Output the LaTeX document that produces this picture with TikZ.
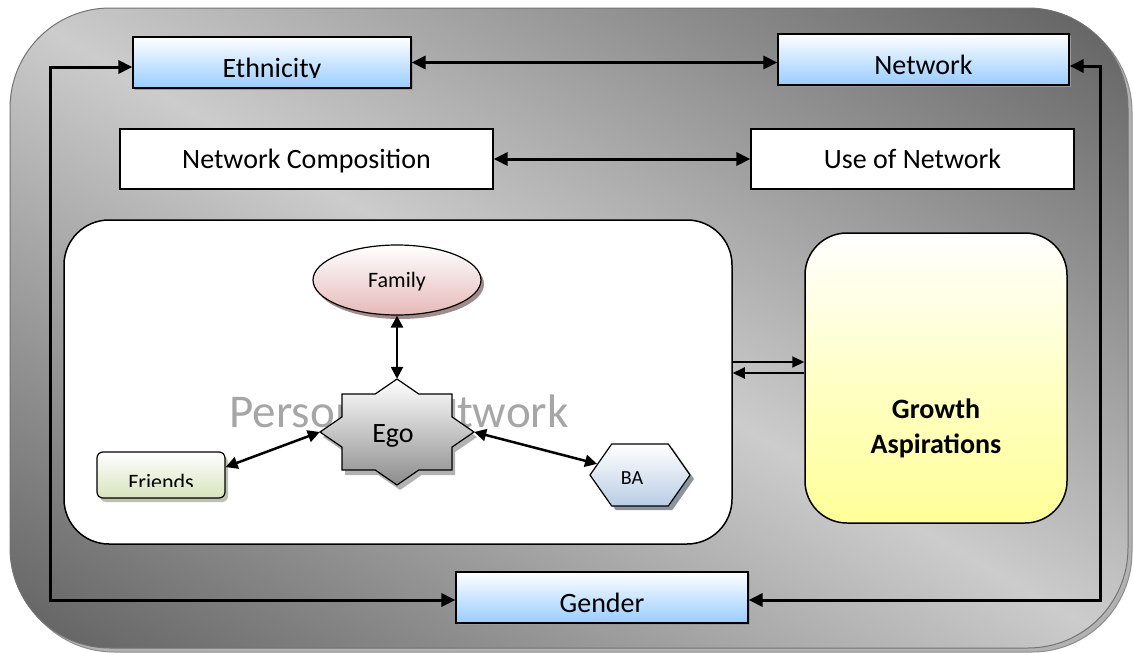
\documentclass[tikz,border=0pt]{standalone}
\usepackage{fontspec}
\setmainfont{Carlito}
\usetikzlibrary{arrows.meta,shapes.geometric,shapes.symbols,shadows,calc}
\definecolor{framedark}{HTML}{666666}
\definecolor{framelight}{HTML}{CCCCCC}
\definecolor{boxblue}{HTML}{99CCFF}
\definecolor{fampink}{HTML}{E6B9B8}
\definecolor{frgreen}{HTML}{D7E4BD}
\definecolor{hexblue}{HTML}{B9CDE5}
\definecolor{gyellow}{HTML}{FFFF99}
\definecolor{wmgray}{HTML}{A6A6A6}
\begin{document}
\begin{tikzpicture}[x=1pt,y=-1pt,
  conn/.style={line width=3pt},
  arr/.style={line width=3pt,-{Triangle[length=14pt,width=13pt]}},
  darr/.style={line width=3pt,{Triangle[length=14pt,width=13pt]}-{Triangle[length=14pt,width=13pt]}},
  iarr/.style={line width=2.5pt,{Triangle[length=12pt,width=12pt]}-{Triangle[length=12pt,width=12pt]}},
  sarr/.style={line width=2pt,-{Triangle[length=12pt,width=11pt]}},
  bluebox/.style={draw=black,line width=1.2pt,top color=white,bottom color=boxblue,minimum height=51pt,inner sep=0pt,
     drop shadow={shadow xshift=2pt,shadow yshift=-2pt,fill=black!40,opacity=1}},
  whitebox/.style={draw=black,line width=1.2pt,fill=white,minimum height=60pt,inner sep=0pt},
  lbl/.style={inner sep=0pt,anchor=base,font=\fontsize{28}{32}\selectfont},
  slbl/.style={inner sep=0pt,anchor=base,font=\fontsize{22}{26}\selectfont}
]
\useasboundingbox (0,0) rectangle (1133,653);
% outer frame
\draw[draw=black!45,fill=black!30,line width=1pt,rounded corners=100pt] (14,12) rectangle (1132,652);
\begin{scope}
\clip[rounded corners=100pt] (10,8) rectangle (1128,648);
\shade[transform canvas={rotate around={-29.8:(569,328)}},top color=framedark,bottom color=framedark,middle color=framelight]
   (-200,-195) rectangle (1340,851);
\end{scope}
\node (frame) [draw=black!55,line width=1pt,rounded corners=100pt,minimum width=1118pt,minimum height=640pt,inner sep=0pt] at (569,328) {};

% top boxes
\node[bluebox,minimum width=278pt] (eth) at (272,62.5) {};
\begin{scope}
\clip ([xshift=1pt]eth.north west) rectangle ([yshift=-15pt]eth.east);
\node[lbl] (ethtxt) at (272,77) {Ethnicity};
\end{scope}
\node[bluebox,minimum width=291pt] (net) at (923.5,59.5) {};
\node[lbl] (nettxt) at (923.5,74) {Network};

\node[whitebox,minimum width=373pt] (nc) at (306.5,159) {};
\node[lbl] (nctxt) at (306.5,168) {Network Composition};
\node[whitebox,minimum width=323pt] (un) at (912.5,159) {};
\node[lbl] (untxt) at (912.5,168) {Use of Network};

% personal network
\node (pn) [draw=black,line width=1.5pt,fill=white,rounded corners=45pt,minimum width=668pt,minimum height=324pt,inner sep=0pt] at (398,382) {};
\node[inner sep=0pt,anchor=base,text=wmgray,font=\fontsize{47}{50}\selectfont] (pntxt) at (399,427) {Personal Network};

% growth aspirations
\node (ga) [draw=black,line width=1.5pt,rounded corners=42pt,minimum width=262pt,minimum height=290pt,inner sep=0pt,
   top color=white,bottom color=gyellow,middle color=white!45!gyellow] at (936,378) {};
\node[inner sep=0pt,align=center,font=\bfseries\fontsize{28}{35}\selectfont] (gatxt) at (936,428) {Growth\\Aspirations};

% gender
\node[bluebox,minimum width=292pt] (gen) at (602,597.5) {};
\node[lbl] (gentxt) at (602,612) {Gender};

% family
\node (fam) [ellipse,draw=black,line width=1.2pt,top color=white,bottom color=fampink,minimum width=168pt,minimum height=70pt,inner sep=0pt,
   drop shadow={shadow xshift=3pt,shadow yshift=-4pt,fill=fampink!60!black,opacity=0.8}] at (397,280) {};
\node[slbl] (famtxt) at (397,287) {Family};

% ego
\fill[black!30,shift={(400,437)}] (0,-53) -- (21.8,-38) -- (55,-38) -- (55,-15.1) -- (77,0) -- (55,15.1) -- (55,38) -- (21.8,38)
   -- (0,53) -- (-21.8,38) -- (-55,38) -- (-55,15.1) -- (-77,0) -- (-55,-15.1) -- (-55,-38) -- (-21.8,-38) -- cycle;
\draw[draw=black,line width=1.2pt,top color=white,bottom color=black!45,shift={(397,432)}] (0,-53) -- (21.8,-38) -- (55,-38) -- (55,-15.1) -- (77,0) -- (55,15.1) -- (55,38) -- (21.8,38)
   -- (0,53) -- (-21.8,38) -- (-55,38) -- (-55,15.1) -- (-77,0) -- (-55,-15.1) -- (-55,-38) -- (-21.8,-38) -- cycle;
\node (ego) [inner sep=0pt,minimum width=154pt,minimum height=106pt,font=\fontsize{28}{32}\selectfont] at (397,432) {};
\node[lbl] (egotxt) at (393,442) {Ego};

% friends
\node (fr) [draw=black,line width=1.2pt,rounded corners=6pt,top color=white,bottom color=frgreen,minimum width=128pt,minimum height=46pt,inner sep=0pt,
   drop shadow={shadow xshift=3pt,shadow yshift=-4pt,fill=frgreen!70!black!80,opacity=0.8}] at (161,475) {};
\begin{scope}
\clip ([xshift=1pt]fr.north west) rectangle ([yshift=-11pt]fr.east);
\node[slbl] (frtxt) at (161,489) {Friends};
\end{scope}

% BA
\node (ba) [signal,signal to=east and west,signal pointer angle=110,draw=black,line width=1.2pt,top color=white,bottom color=hexblue,
   minimum width=100pt,minimum height=62pt,inner sep=0pt,
   drop shadow={shadow xshift=4pt,shadow yshift=-4pt,fill=hexblue!60!black,opacity=0.8}] at (640,475) {};
\node[inner sep=0pt,anchor=base,font=\fontsize{20}{24}\selectfont] (batxt) at (632,484) {BA};

% connectors
\coordinate (L1) at (50,67);
\coordinate (L2) at (50,600);
\coordinate (R1) at (1100,66);
\coordinate (R2) at (1100,600);
\draw[arr] (L2) -- (L1) -- (L1 -| eth.west);
\draw[arr,line cap=rect] (L2) -- (L2 -| gen.west);
\draw[arr] (R2) -- (R1) -- (R1 -| net.east);
\draw[arr,line cap=rect] (R2) -- (R2 -| gen.east);
\draw[darr] (eth.east) -- (eth.east -| net.west);
\draw[darr] (nc.east) -- (un.west);

\draw[iarr] (fam.south) -- (ego.north);
\draw[iarr] (ego.west) -- (fr.7);
\draw[iarr] (ego.east) -- (ba);

\draw[sarr] ([yshift=20pt]pn.east) -- ([yshift=20pt]pn.east -| ga.west);
\draw[sarr] ([yshift=9pt]pn.east -| ga.west) -- ([yshift=9pt]pn.east);
\end{tikzpicture}
\end{document}
